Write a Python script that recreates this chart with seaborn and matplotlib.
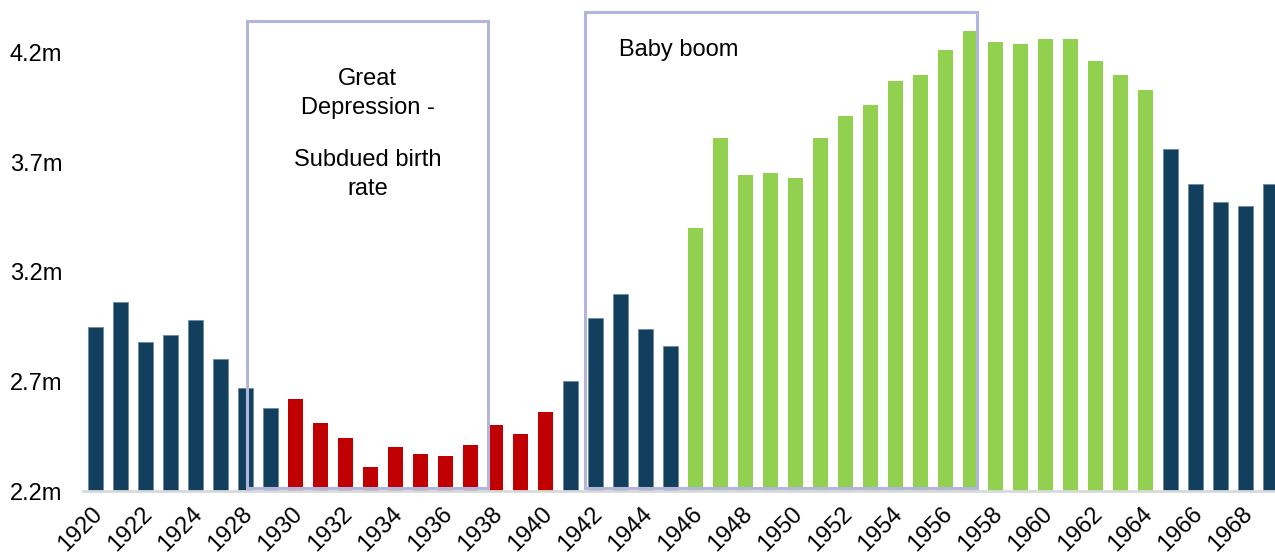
import pandas as pd
import matplotlib.pyplot as plt
import matplotlib.transforms as mtransforms
import seaborn as sns
from matplotlib.patches import Rectangle
from matplotlib.colors import to_rgba

# data (births, millions)
years = [1920, 1921, 1922, 1923, 1924, 1925] + list(range(1928, 1970))
births = [2.95, 3.06, 2.88, 2.91, 2.98, 2.80, 2.67, 2.58,
          2.62, 2.51, 2.44, 2.31, 2.40, 2.37, 2.36, 2.41, 2.50, 2.46, 2.56,
          2.70, 2.99, 3.10, 2.94, 2.86,
          3.40, 3.81, 3.64, 3.65, 3.63, 3.81, 3.91, 3.96, 4.07, 4.10, 4.21,
          4.30, 4.25, 4.24, 4.26, 4.26, 4.16, 4.10, 4.03,
          3.76, 3.60, 3.52, 3.50, 3.60]
era = (["other"] * 8 + ["depression"] * 11 + ["other"] * 5
       + ["boom"] * 19 + ["other"] * 5)

colors = {"other": "#123f5d", "depression": "#c00000", "boom": "#92d050"}
box_color = "#b3b6dc"

df = pd.DataFrame({"year": [str(y) for y in years], "births": births, "era": era})

sns.set_theme(style="white")
plt.rcParams["font.family"] = ["Liberation Sans", "DejaVu Sans"]

fig = plt.figure(figsize=(12.75, 5.56), dpi=100)
ax = fig.add_axes([83 / 1275, 65 / 556, 1200 / 1275, 491 / 556])

sns.barplot(data=df, x="year", y="births", hue="era", palette=colors,
            dodge=False, width=0.6, legend=False, ax=ax, saturation=1,
            edgecolor="none", linewidth=0)
navy = to_rgba(colors["other"])
for p in ax.patches:
    if all(abs(a - b) < 0.01 for a, b in zip(p.get_facecolor(), navy)):
        p.set_edgecolor("#6d8aa0")
        p.set_linewidth(0.6)

ax.set_ylim(2.2, 4.44)
ax.set_xlim(-0.5, len(years) - 0.5)
yt = [2.2, 2.7, 3.2, 3.7, 4.2]
ax.set_yticks(yt)
ax.set_yticklabels([f"{v}m" for v in yt], fontsize=17)
ax.set_xticks(range(0, len(years), 2))
ax.set_xticklabels(df["year"][::2], fontsize=17, rotation=45,
                   ha="right", va="center", rotation_mode="anchor")
ax.tick_params(axis="y", length=0, pad=15, labelcolor="black")
ax.tick_params(axis="x", length=0, pad=14, labelcolor="black")
shift = mtransforms.ScaledTranslation(4 / 100, 0, fig.dpi_scale_trans)
for lab in ax.get_xticklabels():
    lab.set_transform(lab.get_transform() + shift)
ax.set_xlabel("")
ax.set_ylabel("")

for s in ["top", "right", "left"]:
    ax.spines[s].set_visible(False)
ax.spines["bottom"].set_color("#d9d9d9")
ax.spines["bottom"].set_linewidth(2)

# annotation boxes
ax.add_patch(Rectangle((6.06, 2.214), 9.64, 2.13, fill=False,
                       edgecolor=box_color, linewidth=2.2, clip_on=False, zorder=3))
ax.add_patch(Rectangle((19.58, 2.214), 15.68, 2.171, fill=False,
                       edgecolor=box_color, linewidth=2.2, clip_on=False, zorder=3))

ax.text(10.88, 4.012, "Great\nDepression -", ha="center", va="center",
        fontsize=17, color="#000000", linespacing=1.4)
ax.text(10.88, 3.643, "Subdued birth\nrate", ha="center", va="center",
        fontsize=17, color="#000000", linespacing=1.4)
ax.text(20.94, 4.211, "Baby boom", ha="left", va="center",
        fontsize=17, color="#000000")

fig.savefig("out.png", dpi=100)
